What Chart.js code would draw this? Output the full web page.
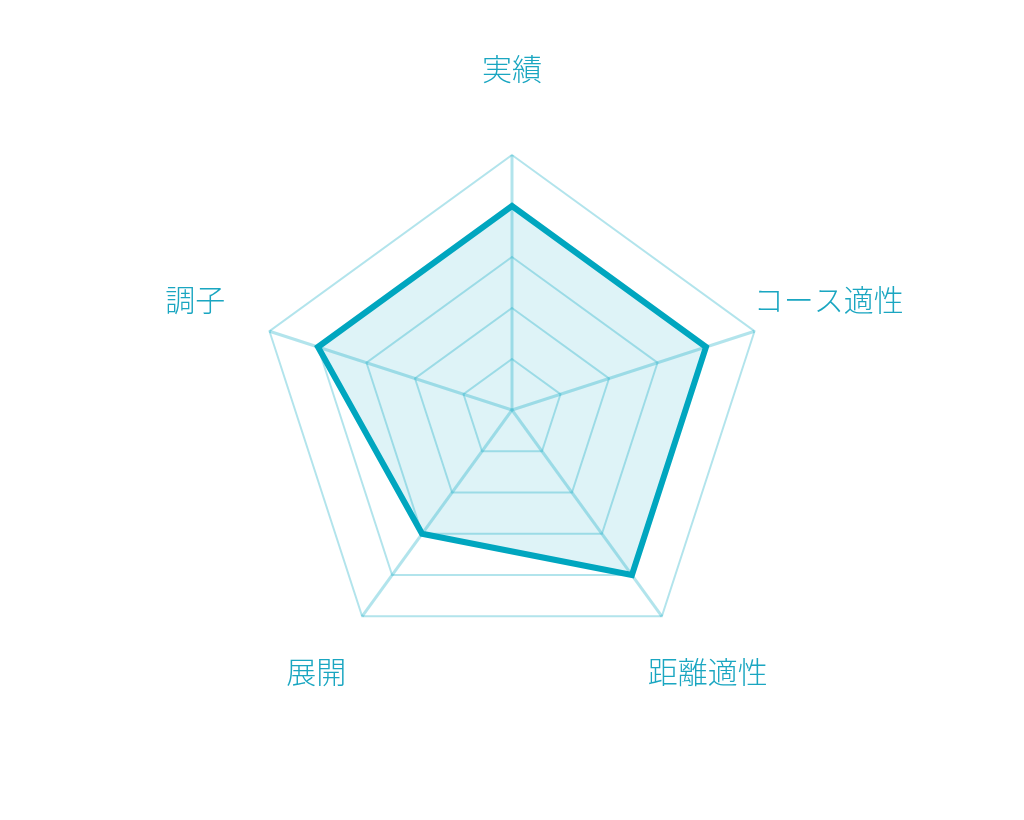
<!DOCTYPE html>
<html>
<head>
<meta charset="utf-8">
<script src="https://cdn.jsdelivr.net/npm/chart.js@4/dist/chart.umd.min.js"></script>
<style>
  html, body { margin: 0; padding: 0; background: #fff; }
  #wrap { width: 1024px; height: 820px; }
</style>
</head>
<body>
<div id="wrap"><canvas id="myChart" width="1024" height="820"></canvas></div>
<script>
// axes (clockwise from top) and scores
var labels = ['実績', 'コース適性', '距離適性', '展開', '調子'];
var scores = [4, 4, 4, 3, 4];
var maxScore = 5;

var teal = '#00a6bf';
var gridColor = 'rgba(0, 166, 191, 0.3)';

// labels drawn centred on each axis, a little outside the outer ring
const axisLabels = {
  id: 'axisLabels',
  afterDraw(chart) {
    const scale = chart.scales.r;
    const ctx = chart.ctx;
    ctx.save();
    ctx.font = '300 30px "Noto Sans CJK JP", "Noto Sans", sans-serif';
    ctx.fillStyle = '#1aa6c1';
    ctx.textAlign = 'center';
    ctx.textBaseline = 'middle';
    labels.forEach((text, i) => {
      const p = scale.getPointPosition(i, scale.drawingArea + 78);
      ctx.fillText(text, p.x, p.y - 8);
    });
    ctx.restore();
  }
};

const ctx = document.getElementById('myChart');
const chart1 = new Chart(ctx, {
  type: 'radar',
  data: {
    labels: labels,
    datasets: [{
      data: scores,
      borderColor: teal,
      backgroundColor: 'rgba(0, 166, 191, 0.13)',
      borderWidth: 6,
      fill: true,
      pointRadius: 0,
      pointHoverRadius: 0,
      tension: 0
    }]
  },
  options: {
    responsive: false,
    animation: false,
    layout: { padding: { top: 155, bottom: 155, left: 0, right: 0 } },
    plugins: {
      legend: { display: false },
      tooltip: { enabled: false }
    },
    scales: {
      r: {
        min: 0,
        max: maxScore,
        ticks: { stepSize: 1, display: false },
        pointLabels: { display: false },
        grid: { color: gridColor, lineWidth: 2 },
        angleLines: { color: gridColor, lineWidth: 3 }
      }
    }
  },
  plugins: [axisLabels]
});
</script>
</body>
</html>
